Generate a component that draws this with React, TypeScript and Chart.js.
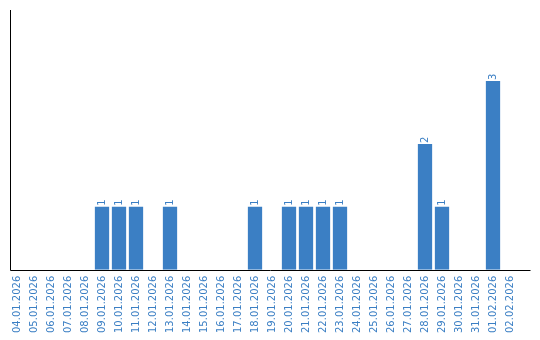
import React, { useEffect, useRef } from "react";
import { Chart, registerables } from "chart.js";

Chart.register(...registerables);

const categories: string[] = [
  "04.01.2026", "05.01.2026", "06.01.2026", "07.01.2026", "08.01.2026",
  "09.01.2026", "10.01.2026", "11.01.2026", "12.01.2026", "13.01.2026",
  "14.01.2026", "15.01.2026", "16.01.2026", "17.01.2026", "18.01.2026",
  "19.01.2026", "20.01.2026", "21.01.2026", "22.01.2026", "23.01.2026",
  "24.01.2026", "25.01.2026", "26.01.2026", "27.01.2026", "28.01.2026",
  "29.01.2026", "30.01.2026", "31.01.2026", "01.02.2026", "02.02.2026",
];

const values: (number | null)[] = [
  0, 0, 0, 0, 0,
  1, 1, 1, 0, 1,
  0, 0, 0, 0, 1,
  0, 1, 1, 1, 1,
  0, 0, 0, 0, 2,
  1, 0, 0, 3, 0,
];

const BAR_COLOR = "#3b7fc4";
const TEXT_COLOR = "#3b7fc4";
const FONT = "DejaVu Sans";

const valueLabels = {
  id: "valueLabels",
  afterDatasetsDraw(chart: any) {
    const ctx = chart.ctx;
    const meta = chart.getDatasetMeta(0);
    const data = chart.data.datasets[0].data as number[];
    ctx.save();
    ctx.fillStyle = TEXT_COLOR;
    ctx.font = `10px "${FONT}"`;
    ctx.textAlign = "left";
    ctx.textBaseline = "middle";
    meta.data.forEach((bar: any, i: number) => {
      const v = data[i];
      if (!v) return;
      ctx.save();
      ctx.translate(bar.x, bar.y - 1);
      ctx.rotate(-Math.PI / 2);
      ctx.fillText(String(v), 0, 0);
      ctx.restore();
    });
    ctx.restore();
  },
};

const axisLines = {
  id: "axisLines",
  afterDatasetsDraw(chart: any) {
    const { ctx, chartArea } = chart;
    ctx.save();
    ctx.strokeStyle = "#000";
    ctx.lineWidth = 1;
    const x0 = Math.round(chartArea.left + 1.5) + 0.5;
    const yb = Math.round(chartArea.bottom) + 0.5;
    ctx.beginPath();
    ctx.moveTo(x0, chartArea.top);
    ctx.lineTo(x0, yb);
    ctx.lineTo(chartArea.right + 12, yb);
    ctx.stroke();
    ctx.restore();
  },
};

export default function App() {
  const ref = useRef<HTMLCanvasElement | null>(null);
  useEffect(() => {
    document.body.style.margin = "0";
    if (!ref.current) return;
    const chart = new Chart(ref.current, {
      type: "bar",
      data: {
        labels: categories,
        datasets: [
          {
            data: values,
            backgroundColor: BAR_COLOR,
            borderWidth: 0,
            barPercentage: 0.84,
            categoryPercentage: 1,
          },
        ],
      },
      plugins: [valueLabels, axisLines],
      options: {
        animation: false,
        responsive: false,
        maintainAspectRatio: false,
        layout: { padding: { left: 8.5, right: 21.5, top: 10, bottom: 1 } },
        plugins: {
          legend: { display: false },
          tooltip: { enabled: false },
        },
        scales: {
          x: {
            grid: { display: false, drawTicks: false, tickLength: 0 },
            border: { display: false },
            ticks: {
              color: TEXT_COLOR,
              font: { family: FONT, size: 10 },
              minRotation: 90,
              maxRotation: 90,
              autoSkip: false,
              padding: 6,
            },
          },
          y: {
            display: false,
            min: 0,
            max: 4.13,
          },
        },
      },
    });
    return () => chart.destroy();
  }, []);
  return (
    <div style={{ position: "absolute", left: 0, top: 0, width: 540, height: 340 }}>
      <canvas ref={ref} width={540} height={340} />
    </div>
  );
}
